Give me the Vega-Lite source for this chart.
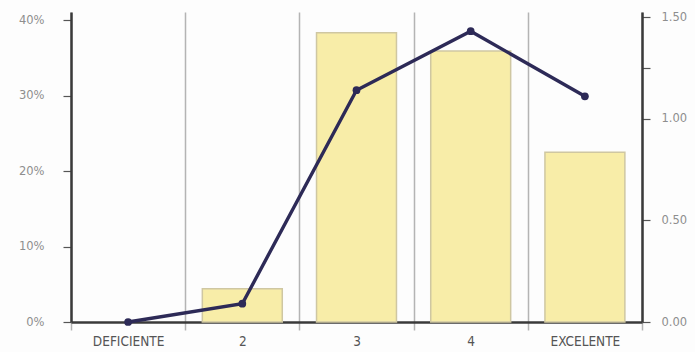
{
  "$schema": "https://vega.github.io/schema/vega-lite/v6.json",
  "autosize": {"type": "none"},
  "padding": {"left": 71, "top": 12, "right": 53, "bottom": 30},
  "width": 571,
  "height": 310,
  "background": "#fdfdfd",
  "config": {
    "view": {"stroke": null},
    "axis": {"labelFont": "DejaVu Sans", "titleFont": "DejaVu Sans"}
  },
  "data": {
    "values": [
      {"categoria": "DEFICIENTE", "porcentaje": 0.0, "indice": 0.0},
      {"categoria": "2", "porcentaje": 0.044, "indice": 0.09},
      {"categoria": "3", "porcentaje": 0.383, "indice": 1.14},
      {"categoria": "4", "porcentaje": 0.359, "indice": 1.43},
      {"categoria": "EXCELENTE", "porcentaje": 0.225, "indice": 1.11}
    ]
  },
  "encoding": {
    "x": {
      "field": "categoria",
      "type": "nominal",
      "sort": null,
      "scale": {"domain": ["DEFICIENTE", "2", "3", "4", "EXCELENTE"], "paddingInner": 0, "paddingOuter": 0},
      "axis": {
        "title": null,
        "labelAngle": 0,
        "tickBand": "extent",
        "grid": true,
        "gridColor": "#b4b4b4",
        "gridWidth": 1.5,
        "ticks": true,
        "tickSize": 8,
        "tickColor": "#b4b4b4",
        "tickWidth": 1.5,
        "domainColor": "#3a3a3a",
        "domainWidth": 2.5,
        "labelFont": "DejaVu Sans Condensed",
        "labelColor": "#555555",
        "labelFontSize": 13.5,
        "labelPadding": 4
      }
    }
  },
  "layer": [
    {
      "transform": [{"filter": "datum.porcentaje > 0"}],
      "mark": {"type": "bar", "width": {"band": 0.7}, "fill": "#f8eda8", "stroke": "#cfc7a2", "strokeWidth": 1.5},
      "encoding": {
        "y": {
          "field": "porcentaje",
          "type": "quantitative",
          "scale": {"domain": [0, 0.4106], "nice": false},
          "axis": {
            "title": null,
            "orient": "left",
            "values": [0, 0.1, 0.2, 0.3, 0.4],
            "format": ".0%",
            "grid": false,
            "domainColor": "#3a3a3a",
            "domainWidth": 2.5,
            "tickColor": "#555555",
            "tickWidth": 1.2,
            "tickSize": 8,
            "labelColor": "#8e8e8e",
            "labelFontSize": 11.5,
            "labelPadding": 19
          }
        }
      }
    },
    {
      "mark": {"type": "line", "color": "#2d2a57", "strokeWidth": 3.4, "point": {"filled": true, "size": 60, "color": "#2d2a57"}},
      "encoding": {
        "y": {
          "field": "indice",
          "type": "quantitative",
          "scale": {"domain": [0, 1.5246], "nice": false},
          "axis": {
            "title": null,
            "orient": "right",
            "values": [0, 0.5, 1, 1.25, 1.5],
            "labelExpr": "datum.value == 1.25 ? '' : format(datum.value, '.2f')",
            "grid": false,
            "domainColor": "#3a3a3a",
            "domainWidth": 2.5,
            "tickColor": "#555555",
            "tickWidth": 1.2,
            "tickSize": 8,
            "labelColor": "#8e8e8e",
            "labelFontSize": 11.5,
            "labelPadding": 11
          }
        }
      }
    }
  ],
  "resolve": {"scale": {"y": "independent"}}
}
